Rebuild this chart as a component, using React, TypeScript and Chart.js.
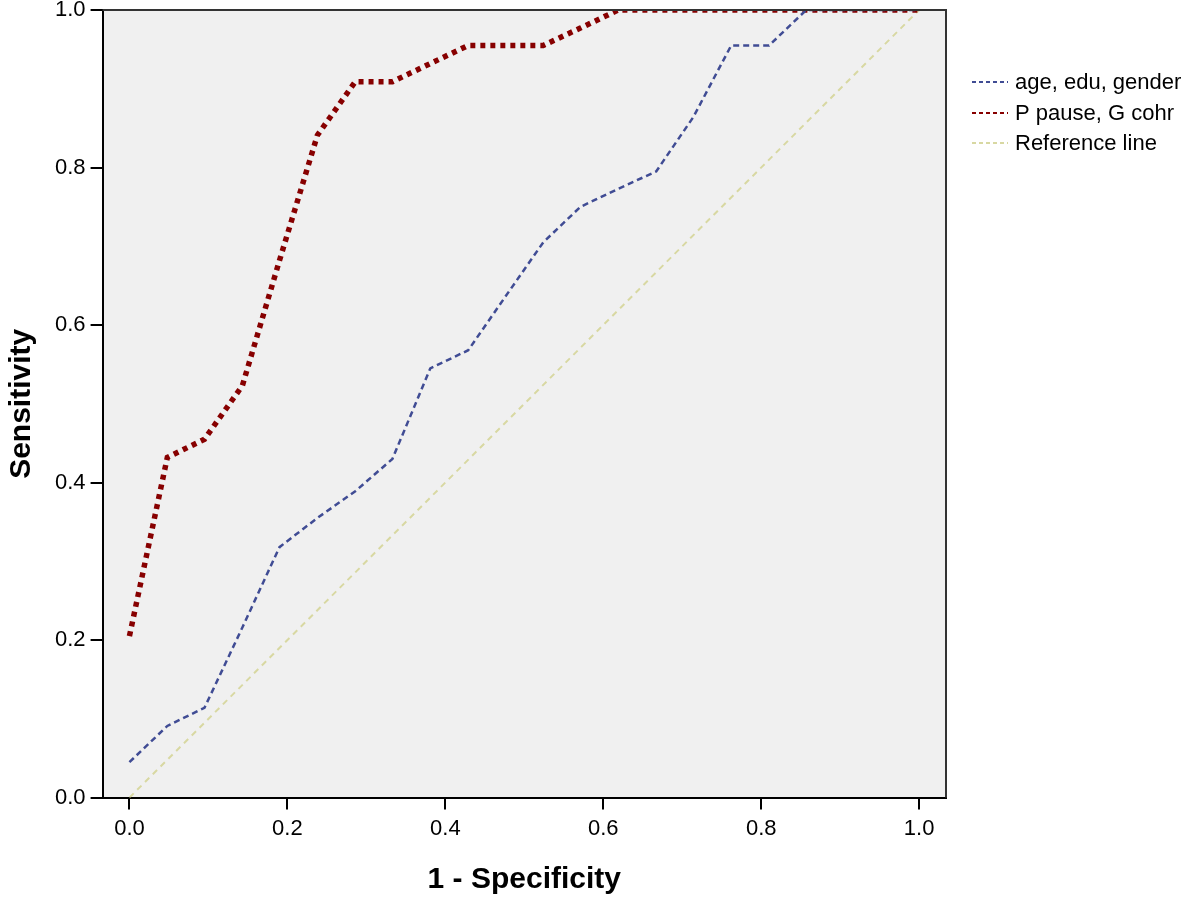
import React, { useEffect, useRef } from "react";
import { Chart, registerables } from "chart.js";

Chart.register(...registerables);

const seriesNames = ["age, edu, gender", "P pause, G cohr", "Reference line"];

const blueX = [0, 0.048, 0.095, 0.143, 0.19, 0.238, 0.286, 0.333, 0.381, 0.429, 0.476, 0.524, 0.571, 0.619, 0.667, 0.714, 0.762, 0.81, 0.857, 0.905, 0.952, 1.0];
const blueY = [0.045, 0.091, 0.114, 0.216, 0.318, 0.355, 0.389, 0.43, 0.545, 0.568, 0.636, 0.705, 0.75, 0.773, 0.795, 0.864, 0.955, 0.955, 1.0, 1.0, 1.0, 1.0];

const redX = [0, 0.048, 0.095, 0.143, 0.19, 0.238, 0.286, 0.333, 0.381, 0.429, 0.476, 0.524, 0.571, 0.619, 0.667, 0.714, 0.762, 0.81, 0.857, 0.905, 0.952, 1.0];
const redY = [0.205, 0.432, 0.455, 0.523, 0.682, 0.841, 0.909, 0.909, 0.932, 0.955, 0.955, 0.955, 0.977, 1.0, 1.0, 1.0, 1.0, 1.0, 1.0, 1.0, 1.0, 1.0];

const refX = [0, 1];
const refY = [0, 1];

const xTickValues = [0, 0.2, 0.4, 0.6, 0.8, 1.0];
const yTickValues = [0, 0.2, 0.4, 0.6, 0.8, 1.0];

const seriesColors = ["#404c94", "#870000", "#d8d8a2"];

const FONT = "'Liberation Sans', Arial, sans-serif";

const toPoints = (xs: number[], ys: number[]) => xs.map((x, i) => ({ x, y: ys[i] }));

const framePlugin = {
  id: "frame",
  beforeDraw(chart: any) {
    const { ctx, chartArea } = chart;
    ctx.save();
    ctx.fillStyle = "#f0f0f0";
    ctx.fillRect(chartArea.left, chartArea.top, chartArea.right - chartArea.left, chartArea.bottom - chartArea.top);
    ctx.restore();
  },
  afterDraw(chart: any) {
    const { ctx, chartArea } = chart;
    ctx.save();
    ctx.strokeStyle = "#333";
    ctx.lineWidth = 2;
    ctx.beginPath();
    ctx.moveTo(chartArea.left, chartArea.top);
    ctx.lineTo(chartArea.right, chartArea.top);
    ctx.lineTo(chartArea.right, chartArea.bottom);
    ctx.stroke();
    // legend
    const sx0 = chartArea.right + 26;
    const sx1 = sx0 + 36;
    const rowY = [82, 113, 143];
    ctx.font = `22px ${FONT}`;
    ctx.textBaseline = "middle";
    ctx.textAlign = "left";
    chart.data.datasets.forEach((ds: any, i: number) => {
      ctx.strokeStyle = ds.borderColor;
      ctx.lineWidth = 2;
      ctx.setLineDash([4, 3]);
      ctx.beginPath();
      ctx.moveTo(sx0, rowY[i]);
      ctx.lineTo(sx1, rowY[i]);
      ctx.stroke();
      ctx.setLineDash([]);
      ctx.fillStyle = "#000";
      ctx.fillText(ds.label, sx1 + 7, rowY[i] + 1);
    });
    ctx.restore();
  },
};

export default function App() {
  const ref = useRef<HTMLCanvasElement | null>(null);
  useEffect(() => {
    document.body.style.margin = "0";
    document.body.style.overflow = "hidden";
    const canvas = ref.current;
    if (!canvas) return;
    const chart = new Chart(canvas, {
      type: "line",
      data: {
        datasets: [
          {
            label: seriesNames[0],
            data: toPoints(blueX, blueY),
            borderColor: seriesColors[0],
            borderWidth: 2.5,
            borderDash: [6, 4],
            pointRadius: 0,
            tension: 0,
            fill: false,
          },
          {
            label: seriesNames[1],
            data: toPoints(redX, redY),
            borderColor: seriesColors[1],
            borderWidth: 5.5,
            borderDash: [5, 5],
            borderCapStyle: "butt",
            pointRadius: 0,
            tension: 0,
            fill: false,
          },
          {
            label: seriesNames[2],
            data: toPoints(refX, refY),
            borderColor: seriesColors[2],
            borderWidth: 2,
            borderDash: [6, 5],
            pointRadius: 0,
            tension: 0,
            fill: false,
          },
        ],
      },
      options: {
        animation: false,
        responsive: true,
        maintainAspectRatio: false,
        layout: { padding: { top: 10, right: 255, left: 0, bottom: 0 } },
        plugins: { legend: { display: false }, tooltip: { enabled: false } },
        scales: {
          x: {
            type: "linear",
            min: -0.034,
            max: 1.034,
            afterBuildTicks: (s: any) => {
              s.ticks = xTickValues.map((v) => ({ value: v }));
            },
            afterFit: (s: any) => {
              s.paddingLeft = 0;
              s.paddingRight = 0;
            },
            ticks: {
              callback: (v: any) => Number(v).toFixed(1),
              font: { size: 22, family: FONT },
              color: "#000",
              padding: 6,
              maxRotation: 0,
              autoSkip: false,
            },
            grid: { drawOnChartArea: false, drawTicks: true, tickLength: 12, color: "#000", lineWidth: 2 },
            border: { display: true, color: "#000", width: 2 },
            title: {
              display: true,
              text: "1 - Specificity",
              font: { size: 30, weight: "bold", family: FONT },
              color: "#000",
              padding: { top: 14, bottom: 3 },
            },
          },
          y: {
            type: "linear",
            min: 0,
            max: 1,
            afterBuildTicks: (s: any) => {
              s.ticks = yTickValues.map((v) => ({ value: v }));
            },
            afterFit: (s: any) => {
              s.paddingTop = 0;
              s.paddingBottom = 0;
            },
            ticks: {
              callback: (v: any) => Number(v).toFixed(1),
              font: { size: 22, family: FONT },
              color: "#000",
              padding: 5,
              autoSkip: false,
            },
            grid: { drawOnChartArea: false, drawTicks: true, tickLength: 12, color: "#000", lineWidth: 2 },
            border: { display: true, color: "#000", width: 2 },
            title: {
              display: true,
              text: "Sensitivity",
              font: { size: 30, weight: "bold", family: FONT },
              color: "#000",
              padding: { top: 4, bottom: 10 },
            },
          },
        },
      },
      plugins: [framePlugin],
    } as any);
    return () => chart.destroy();
  }, []);
  return (
    <div style={{ position: "relative", width: 1201, height: 901, background: "#fff" }}>
      <canvas ref={ref} />
    </div>
  );
}
